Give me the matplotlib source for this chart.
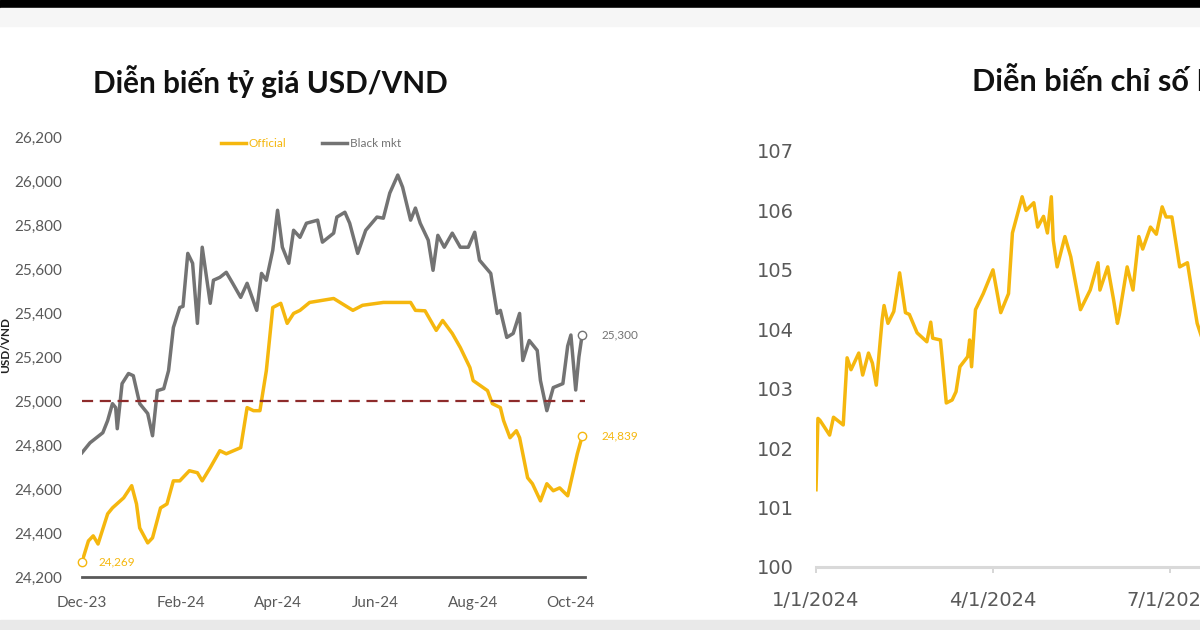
import matplotlib
matplotlib.use("Agg")
import matplotlib.pyplot as plt
import matplotlib.dates as mdates
from matplotlib.patches import Rectangle
from datetime import datetime, timedelta

# ---------------- data ----------------
official_dates = ["2023-12-01", "2023-12-05", "2023-12-08", "2023-12-11", "2023-12-17", "2023-12-20",
                  "2023-12-27", "2024-01-01", "2024-01-04", "2024-01-06", "2024-01-11", "2024-01-14",
                  "2024-01-19", "2024-01-23", "2024-01-27", "2024-01-31", "2024-02-06", "2024-02-11",
                  "2024-02-14", "2024-02-19", "2024-02-25", "2024-02-29", "2024-03-09", "2024-03-13",
                  "2024-03-17", "2024-03-21", "2024-03-25", "2024-03-29", "2024-04-03", "2024-04-07",
                  "2024-04-11", "2024-04-15", "2024-04-21", "2024-05-06", "2024-05-18", "2024-05-24",
                  "2024-06-06", "2024-06-23", "2024-06-26", "2024-07-02", "2024-07-09", "2024-07-13",
                  "2024-07-19", "2024-07-24", "2024-07-30", "2024-08-01", "2024-08-10", "2024-08-13",
                  "2024-08-18", "2024-08-20", "2024-08-24", "2024-08-28", "2024-08-30", "2024-09-04",
                  "2024-09-07", "2024-09-12", "2024-09-16", "2024-09-20", "2024-09-24", "2024-09-29",
                  "2024-09-30", "2024-10-05", "2024-10-08"]
official_vals = [24269, 24364, 24387, 24350, 24487, 24514,
                 24560, 24615, 24532, 24423, 24355, 24378,
                 24514, 24532, 24637, 24637, 24683, 24674,
                 24637, 24697, 24774, 24760, 24788, 24970,
                 24956, 24956, 25138, 25425, 25444, 25353,
                 25398, 25412, 25448, 25466, 25412, 25435,
                 25448, 25448, 25412, 25410, 25321, 25366,
                 25307, 25243, 25152, 25093, 25047, 24988,
                 24970, 24911, 24833, 24865, 24833, 24651,
                 24624, 24546, 24624, 24592, 24605, 24569,
                 24600, 24760, 24839]

black_dates = ["2023-12-01", "2023-12-06", "2023-12-10", "2023-12-14", "2023-12-17", "2023-12-20",
               "2023-12-22", "2023-12-23", "2023-12-26", "2023-12-30", "2024-01-02", "2024-01-06",
               "2024-01-11", "2024-01-14", "2024-01-17", "2024-01-21", "2024-01-24", "2024-01-27",
               "2024-01-31", "2024-02-02", "2024-02-05", "2024-02-08", "2024-02-11", "2024-02-14",
               "2024-02-19", "2024-02-21", "2024-02-25", "2024-02-29", "2024-03-04", "2024-03-09",
               "2024-03-13", "2024-03-19", "2024-03-22", "2024-03-25", "2024-03-29", "2024-04-01",
               "2024-04-04", "2024-04-08", "2024-04-11", "2024-04-15", "2024-04-19", "2024-04-26",
               "2024-04-29", "2024-05-06", "2024-05-08", "2024-05-13", "2024-05-16", "2024-05-21",
               "2024-05-26", "2024-06-02", "2024-06-06", "2024-06-10", "2024-06-15", "2024-06-18",
               "2024-06-23", "2024-06-26", "2024-06-29", "2024-07-04", "2024-07-07", "2024-07-10",
               "2024-07-14", "2024-07-19", "2024-07-24", "2024-07-29", "2024-08-02", "2024-08-05",
               "2024-08-12", "2024-08-16", "2024-08-18", "2024-08-22", "2024-08-26", "2024-08-30",
               "2024-09-01", "2024-09-05", "2024-09-10", "2024-09-12", "2024-09-16", "2024-09-20",
               "2024-09-26", "2024-09-29", "2024-10-01", "2024-10-04", "2024-10-06", "2024-10-08"]
black_vals = [24765, 24810, 24833, 24856, 24911, 24988,
              24970, 24874, 25079, 25125, 25115, 24988,
              24943, 24842, 25047, 25056, 25138, 25334,
              25425, 25430, 25671, 25626, 25353, 25699,
              25444, 25549, 25562, 25585, 25535, 25471,
              25535, 25412, 25580, 25549, 25685, 25867,
              25699, 25626, 25776, 25744, 25808, 25822,
              25722, 25763, 25836, 25858, 25808, 25671,
              25776, 25836, 25831, 25945, 26027, 25972,
              25822, 25877, 25808, 25731, 25594, 25753,
              25699, 25763, 25699, 25699, 25767, 25640,
              25580, 25398, 25412, 25289, 25307, 25398,
              25184, 25275, 25230, 25093, 24956, 25061,
              25079, 25250, 25300, 25050, 25200, 25300]

left_yticks = [24200, 24400, 24600, 24800, 25000, 25200, 25400, 25600, 25800, 26000, 26200]
left_xticks = ["2023-12-01", "2024-02-01", "2024-04-01", "2024-06-01", "2024-08-01", "2024-10-01"]
threshold = 25000

dxy_dates = ["2024-01-01", "2024-01-02", "2024-01-03", "2024-01-08", "2024-01-10", "2024-01-15",
             "2024-01-17", "2024-01-19", "2024-01-23", "2024-01-25", "2024-01-28", "2024-01-30",
             "2024-02-01", "2024-02-04", "2024-02-05", "2024-02-07", "2024-02-10", "2024-02-13",
             "2024-02-16", "2024-02-18", "2024-02-22", "2024-02-27", "2024-02-29", "2024-03-01",
             "2024-03-05", "2024-03-06", "2024-03-08", "2024-03-11", "2024-03-13", "2024-03-15",
             "2024-03-19", "2024-03-20", "2024-03-21", "2024-03-23", "2024-03-27", "2024-04-01",
             "2024-04-05", "2024-04-09", "2024-04-11", "2024-04-16", "2024-04-18", "2024-04-22",
             "2024-04-24", "2024-04-27", "2024-04-29", "2024-05-01", "2024-05-02", "2024-05-04",
             "2024-05-08", "2024-05-11", "2024-05-16", "2024-05-21", "2024-05-25", "2024-05-26",
             "2024-05-30", "2024-06-02", "2024-06-04", "2024-06-05", "2024-06-09", "2024-06-12",
             "2024-06-15", "2024-06-17", "2024-06-21", "2024-06-24", "2024-06-27", "2024-06-29",
             "2024-07-02", "2024-07-06", "2024-07-10", "2024-07-13", "2024-07-15", "2024-07-18",
             "2024-07-22"]
dxy_vals = [101.30, 102.50, 102.47, 102.22, 102.52, 102.39,
            103.52, 103.32, 103.60, 103.23, 103.60, 103.43,
            103.06, 104.16, 104.40, 104.10, 104.30, 104.95,
            104.28, 104.25, 103.94, 103.79, 104.12, 103.85,
            103.82, 103.48, 102.76, 102.81, 102.95, 103.37,
            103.54, 103.82, 103.37, 104.33, 104.60, 105.00,
            104.28, 104.60, 105.62, 106.23, 106.00, 106.13,
            105.72, 105.90, 105.62, 106.23, 105.50, 105.05,
            105.56, 105.22, 104.33, 104.66, 105.12, 104.66,
            105.05, 104.50, 104.10, 104.25, 105.05, 104.66,
            105.56, 105.35, 105.72, 105.60, 106.06, 105.89,
            105.89, 105.05, 105.12, 104.50, 104.10, 103.80,
            103.50]
right_yticks = [100, 101, 102, 103, 104, 105, 106, 107]
right_xticks = ["2024-01-01", "2024-04-01", "2024-07-01", "2024-10-01"]

left_title = "Diễn biến tỷ giá USD/VND"
right_title = "Diễn biến chỉ số DXY"

# ---------------- style ----------------
W, H = 1200, 630
YELLOW = "#F5B70E"
GRAY = "#737373"
TICKC = "#595959"

def d(s):
    return datetime.strptime(s, "%Y-%m-%d")

def fx(px):
    return px / W

def fy(py):
    return 1 - py / H

fig = plt.figure(figsize=(12, 6.3), dpi=100)
fig.patch.set_facecolor("white")
renderer = fig.canvas.get_renderer()

def fit_size(text, target_px, base=19, **kw):
    t = fig.text(0, 0, text, fontsize=base, **kw)
    w = t.get_window_extent(renderer=renderer).width
    t.remove()
    return base * target_px / w

# screenshot bands
fig.patches.append(Rectangle((0, fy(8)), 1, 8 / H, transform=fig.transFigure, color="black", zorder=0))
fig.patches.append(Rectangle((0, fy(26)), 1, 18 / H, transform=fig.transFigure, color="#f6f6f6", zorder=0))
fig.patches.append(Rectangle((0, 0), 1, 10 / H, transform=fig.transFigure, color="#e9e9e9", zorder=0))

# ---------------- left chart ----------------
axL = fig.add_axes([fx(82), fy(577), fx(585 - 82), (577 - 137) / H])
axL.patch.set_alpha(0)
x0 = d("2023-12-01")
axL.set_xlim(x0, x0 + timedelta(days=313.8))
axL.set_ylim(24200, 26200)

od = [d(s) for s in official_dates]
bd = [d(s) for s in black_dates]
axL.plot(od, official_vals, color=YELLOW, lw=2.5, label="Official")
axL.plot(bd, black_vals, color=GRAY, lw=2.5, label="Black mkt")
axL.axhline(threshold, color="#8E2B2B", lw=1.6, ls=(0, (5, 3)))

for xs, ys, c in [(od[0], official_vals[0], YELLOW), (od[-1], official_vals[-1], YELLOW),
                  (bd[-1], black_vals[-1], GRAY)]:
    axL.plot([xs], [ys], marker="o", ms=6, mfc="white", mec=c, mew=1.0, clip_on=False, zorder=5)

for xs, ys, c, off in [(od[0], official_vals[0], YELLOW, 12), (od[-1], official_vals[-1], YELLOW, 14),
                       (bd[-1], black_vals[-1], GRAY, 14)]:
    axL.annotate(f"{ys:,}", xy=(xs, ys), xytext=(off, 0), textcoords="offset points",
                 va="center", ha="left", fontsize=8.5, color=c, family="Lato",
                 annotation_clip=False)

axL.set_yticks(left_yticks)
axL.set_yticklabels([f"{v:,}" for v in left_yticks], family="Lato", fontsize=11, color=TICKC)
axL.set_xticks([d(s) for s in left_xticks])
axL.xaxis.set_major_formatter(mdates.DateFormatter("%b-%y"))
for lab in axL.get_xticklabels():
    lab.set_family("Lato")
    lab.set_fontsize(11)
    lab.set_color(TICKC)
axL.tick_params(axis="both", length=0)
axL.tick_params(axis="y", pad=14)
axL.tick_params(axis="x", pad=14)
for s in ["top", "right", "left"]:
    axL.spines[s].set_visible(False)
axL.spines["bottom"].set_color("#595959")
axL.spines["bottom"].set_linewidth(2)

leg = axL.legend(loc="center", bbox_to_anchor=(0.455, 0.986), ncol=2, frameon=False,
                 prop={"family": "Lato", "size": 8.5}, handlelength=2.1, handletextpad=0.25,
                 columnspacing=3.0)
for t, c in zip(leg.get_texts(), [YELLOW, GRAY]):
    t.set_color(c)

ts = fit_size(left_title, 354, family="Lato", fontweight="bold")
fig.text(fx(270), fy(82), left_title, ha="center", va="center",
         family="Lato", fontweight="bold", fontsize=ts, color="#111111")
fig.text(fx(6), fy(345), "USD/VND", ha="center", va="center", rotation=90,
         family="Lato", fontweight="bold", fontsize=8.5, color="#222222")

# ---------------- right chart ----------------
axR = fig.add_axes([fx(816), fy(567), fx(1400 - 816), (567 - 151) / H])
axR.patch.set_alpha(0)
r0 = d("2024-01-01")
axR.set_xlim(r0, r0 + timedelta(days=300.3))
axR.set_ylim(100, 107)
axR.plot([d(s) for s in dxy_dates], dxy_vals, color=YELLOW, lw=2.5)
axR.set_yticks(right_yticks)
axR.set_yticklabels([str(v) for v in right_yticks], family="DejaVu Sans", fontsize=14, color=TICKC)
axR.set_xticks([d(s) for s in right_xticks])
axR.set_xticklabels([f"{d(s).month}/{d(s).day}/{d(s).year}" for s in right_xticks],
                    family="DejaVu Sans", fontsize=14, color=TICKC)
axR.tick_params(axis="y", length=0, pad=16)
axR.tick_params(axis="x", length=4, width=1.2, color="#d0d0d0", pad=13)
for s in ["top", "right", "left"]:
    axR.spines[s].set_visible(False)
axR.spines["bottom"].set_color("#d9d9d9")
axR.spines["bottom"].set_linewidth(2.2)

rs = fit_size("Diễn biến chỉ số", 216, family="Lato", fontweight="bold")
fig.text(fx(972), fy(82), right_title, ha="left", va="center",
         family="Lato", fontweight="bold", fontsize=rs, color="#111111")

fig.savefig("out.png", dpi=100)
